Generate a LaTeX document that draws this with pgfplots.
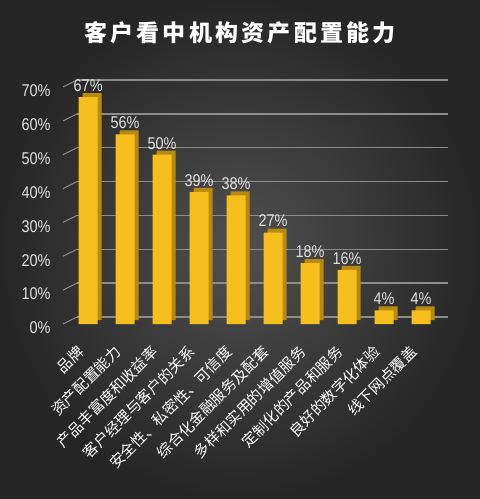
\documentclass[border=0pt]{standalone}
\usepackage{fontspec}
\setmainfont{Noto Sans CJK SC}
\newfontfamily\numfont[FakeStretch=0.85]{Liberation Sans}
\usepackage{pgfplots}
\pgfplotsset{compat=1.18}

\definecolor{bgin}{HTML}{505050}
\definecolor{bgout}{HTML}{262626}
\definecolor{gridc}{HTML}{8C8C8C}
\definecolor{barfront}{HTML}{F7BF1E}
\definecolor{barside}{HTML}{B88A12}
\definecolor{labelc}{HTML}{E2E2E2}

\begin{document}
\begin{tikzpicture}[x=1pt,y=1pt]
    \fill[inner color=bgin, outer color=bgout] (0,0) rectangle (480,499);
    \node[text=white, font=\bfseries\fontsize{23}{23}\selectfont\addfontfeatures{LetterSpace=14}]
        at (240,466) {客户看中机构资产配置能力};

    \begin{axis}[
        at={(63pt,175pt)}, anchor=south west,
        scale only axis,
        width=371pt, height=237pt,
        xmin=-0.68, xmax=9.35,
        ymin=0, ymax=70,
        clip=false,
        axis line style={draw=none},
        major tick length=0pt,
        ytick={0,10,...,70},
        xtick={0,...,9},
        ymajorgrids,
        major grid style={draw=gridc, line width=1.3pt, xshift=14pt, yshift=7pt},
        /pgf/number format/assume math mode=true,
        yticklabel={\pgfmathprintnumber{\tick}\%},
        yticklabel style={font=\numfont\fontsize{17}{17}\selectfont, text=labelc, xshift=-9pt, yshift=-4pt},
        xticklabels={品牌, 资产配置能力, 产品丰富度和收益率, 客户经理与客户的关系, 安全性、私密性、可信度,
            综合化金融服务及配套, 多样和实用的增值服务, 定制化的产品和服务, 良好的数字化体验, 线下网点覆盖},
        xticklabel style={xshift=-7pt, yshift=-25pt, rotate=45, anchor=east, inner sep=0pt,
            font=\fontsize{15}{15}\selectfont, text=white},
        ]

        % side / top faces of the bars
        \addplot[ybar, bar width=19pt, bar shift=0pt, fill=barside, draw=none, xshift=4pt, yshift=4pt]
            coordinates {(0,67) (1,56) (2,50) (3,39) (4,38) (5,27) (6,18) (7,16) (8,4) (9,4)};

        % front faces
        \addplot[ybar, bar width=19pt, bar shift=0pt, fill=barfront, draw=none,
            nodes near coords={\pgfmathprintnumber{\pgfplotspointmeta}\%},
            every node near coord/.append style={font=\numfont\fontsize{17}{17}\selectfont, text=labelc, yshift=2pt}]
            coordinates {(0,67) (1,56) (2,50) (3,39) (4,38) (5,27) (6,18) (7,16) (8,4) (9,4)};

        \pgfplotsinvokeforeach{0,10,...,70}{
            \draw[gridc, line width=1pt] (axis cs:-0.68,#1) -- ++(14pt,7pt);
        }
    \end{axis}
\end{tikzpicture}
\end{document}
